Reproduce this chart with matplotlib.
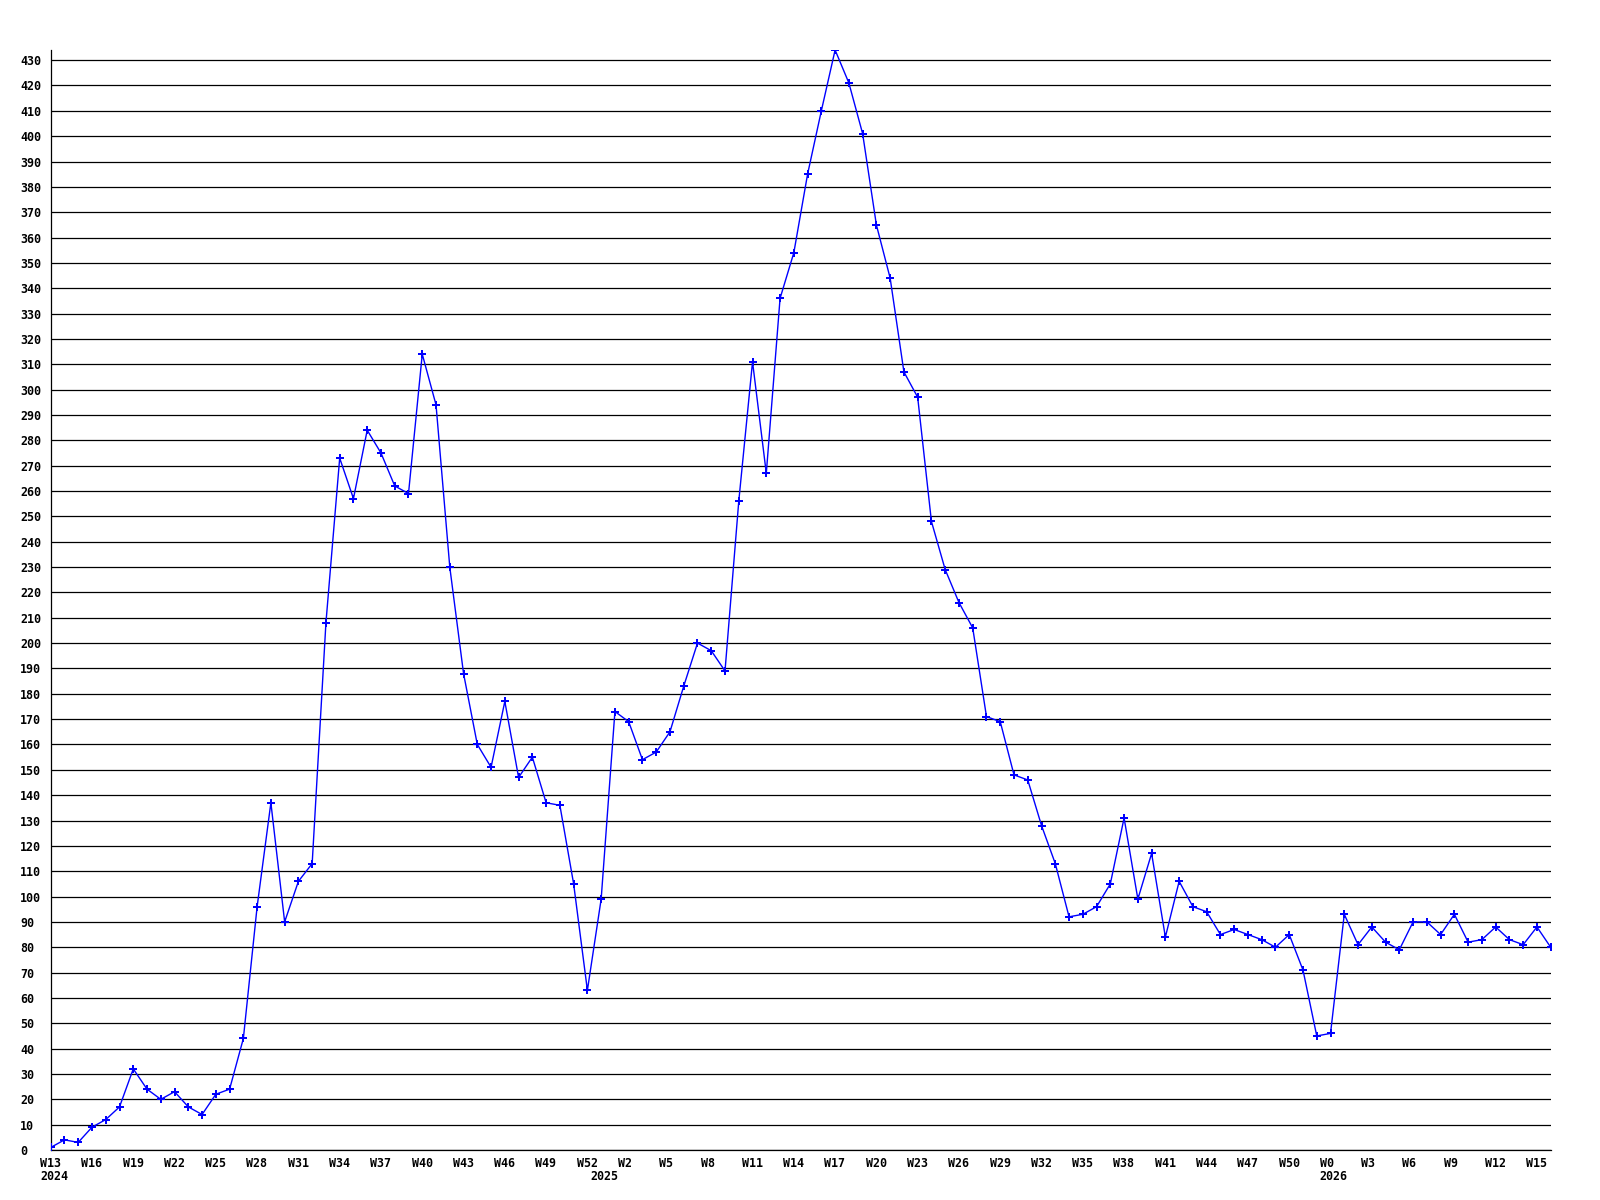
import matplotlib
matplotlib.use("Agg")
import matplotlib.pyplot as plt
from matplotlib.transforms import ScaledTranslation

# Weekly values, 2024 W13 ... 2026 W16
values = [
    1, 4, 3, 9, 12, 17, 32, 24, 20, 23, 17, 14, 22, 24, 44,
    96, 137, 90, 106, 113, 208, 273, 257, 284, 275, 262, 259, 314, 294, 230,
    188, 160, 151, 177, 147, 155, 137, 136, 105, 63, 99, 173, 169, 154, 157,
    165, 183, 200, 197, 189, 256, 311, 267, 336, 354, 385, 410, 434, 421, 401,
    365, 344, 307, 297, 248, 229, 216, 206, 171, 169, 148, 146, 128, 113, 92,
    93, 96, 105, 131, 99, 117, 84, 106, 96, 94, 85, 87, 85, 83, 80,
    85, 71, 45, 46, 93, 81, 88, 82, 79, 90, 90, 85, 93, 82, 83,
    88, 83, 81, 88, 80,
]

# x tick labels (every third week) and year labels
week_labels = [
    "W13", "W16", "W19", "W22", "W25", "W28", "W31", "W34", "W37", "W40",
    "W43", "W46", "W49", "W52", "W2", "W5", "W8", "W11", "W14", "W17",
    "W20", "W23", "W26", "W29", "W32", "W35", "W38", "W41", "W44", "W47",
    "W50", "W0", "W3", "W6", "W9", "W12", "W15",
]
year_labels = ["2024", "2025", "2026"]
year_starts = [0, 40, 93]   # index of first week of each year

W, H, DPI = 1600, 1200, 100
fig = plt.figure(figsize=(W / DPI, H / DPI), dpi=DPI)
ax = fig.add_axes([50.7 / W, 1 - 1150 / H, 1500 / W, 1100 / H])

x = list(range(len(values)))
ax.plot(x, values, color="#0000ff", linewidth=1.0, marker="P",
        markersize=5.5, markeredgewidth=0, zorder=3)

ax.set_xlim(0, len(values) - 1)
ax.set_ylim(0, max(values))

font = dict(family="DejaVu Sans Mono", weight="bold", size=8.4)

# y axis
ax.set_yticks(range(0, 431, 10))
ax.set_yticklabels([str(v) for v in range(0, 431, 10)], **font)
ax.tick_params(axis="y", length=0, pad=22.1)
for lbl in ax.get_yticklabels():
    lbl.set_horizontalalignment("left")
ax.yaxis.grid(True, color="black", linewidth=0.9)
ax.set_axisbelow(True)

# x axis
ax.xaxis.remove_overlapping_locs = False
ax.set_xticks(range(0, len(values), 3))
ax.set_xticklabels(week_labels, **font)
ax.set_xticks(year_starts, minor=True)
ax.set_xticklabels(year_labels, minor=True, **font)
ax.tick_params(axis="x", which="major", length=0, pad=5)
ax.tick_params(axis="x", which="minor", length=0, pad=14.5)
shift = ScaledTranslation(-10.7 / DPI, 0, fig.dpi_scale_trans)
for lbl in ax.get_xticklabels() + ax.get_xticklabels(minor=True):
    lbl.set_horizontalalignment("left")
    lbl.set_transform(lbl.get_transform() + shift)

for s in ["top", "right"]:
    ax.spines[s].set_visible(False)
ax.spines["left"].set_color("black")
ax.spines["left"].set_linewidth(0.9)
ax.spines["bottom"].set_color("black")
ax.spines["bottom"].set_linewidth(0.9)

fig.savefig("out.png", dpi=DPI)
